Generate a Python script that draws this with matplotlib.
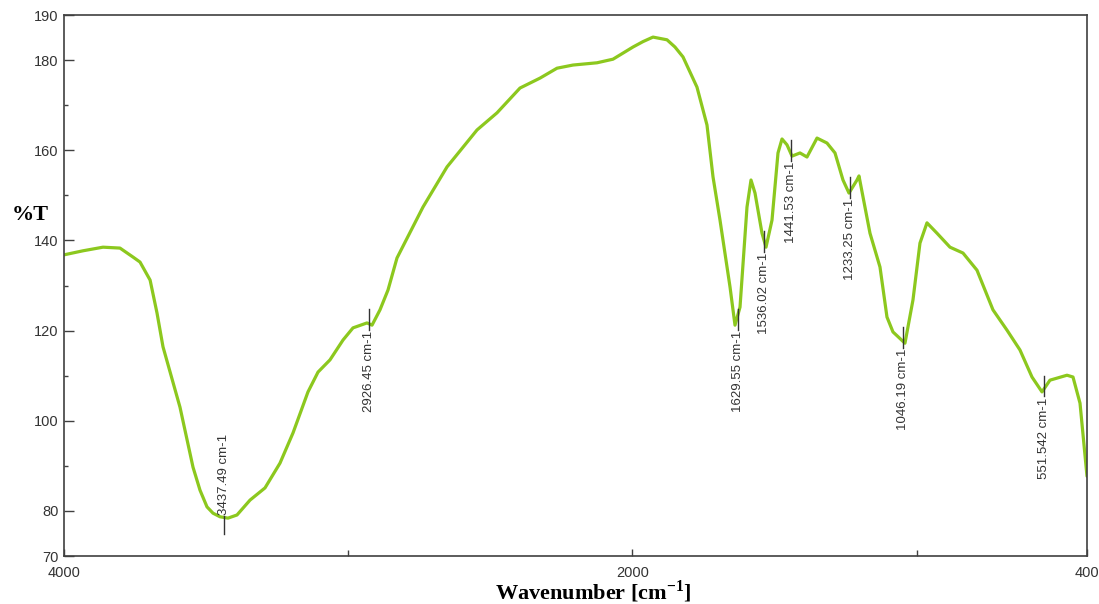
import matplotlib.pyplot as plt
from matplotlib.ticker import FixedLocator
import numpy as np

plt.rcParams['font.family'] = ['Liberation Sans', 'DejaVu Sans']
plt.rcParams['mathtext.fontset'] = 'custom'
plt.rcParams['mathtext.rm'] = 'Liberation Serif:bold'
plt.rcParams['mathtext.bf'] = 'Liberation Serif:bold'

# FTIR spectrum, wavenumber (cm-1) vs %T
wavenumber = [4000, 3933, 3862.8, 3803, 3757, 3732.5, 3697, 3672.7, 3651.6, 3591.8, 3546,
              3521.4, 3496.8, 3475.7, 3451, 3422.9, 3391.2, 3345.4, 3292.7, 3239.9, 3194.1,
              3141.4, 3106, 3064, 3018.2, 2983, 2933.7, 2916, 2888, 2859.8, 2828.2,
              2736.7, 2652.2, 2546.6, 2476.2, 2395.3, 2324.9, 2265.1, 2208.8, 2124.3, 2068,
              1997.6, 1962.4, 1927.3, 1878, 1850, 1821.7, 1772.5, 1737.3, 1716.1, 1691.5,
              1656.3, 1638.7, 1621.1, 1596.5, 1582.4, 1568.3, 1543.7, 1529.6, 1508.5, 1487.4,
              1473.3, 1455.7, 1438.1, 1410, 1385.4, 1350.1, 1315, 1286.8, 1258.7, 1237.6,
              1209.4, 1202.4, 1163.7, 1128.5, 1103.9, 1082.8, 1040.6, 1012.4, 987.8, 963.1,
              927.9, 882.2, 836.4, 787.2, 730.9, 681.6, 635.9, 593.6, 558.4, 530.3,
              470.4, 449.3, 424.6, 400]
transmittance = [136.8, 137.7, 138.5, 138.3, 136.3, 135.2, 131.2, 123.9, 116.4, 103.0, 89.7,
                 84.6, 80.9, 79.5, 78.7, 78.4, 79.1, 82.4, 85.1, 90.6, 97.3,
                 106.4, 110.8, 113.5, 117.9, 120.6, 121.7, 121.2, 124.6, 129.0, 136.1,
                 147.4, 156.3, 164.5, 168.3, 173.8, 176.0, 178.2, 178.9, 179.4, 180.2,
                 182.9, 184.1, 185.1, 184.5, 182.9, 180.7, 174.0, 165.6, 154.1, 144.5,
                 129.7, 121.2, 125.2, 147.4, 153.4, 150.5, 141.6, 138.5, 144.5, 159.4,
                 162.5, 161.2, 158.7, 159.4, 158.5, 162.7, 161.6, 159.4, 153.4, 150.5,
                 153.4, 154.3, 141.6, 134.1, 123.0, 119.7, 117.2, 126.8, 139.4, 143.9,
                 141.6, 138.5, 137.2, 133.4, 124.6, 120.1, 115.7, 109.7, 106.4, 109.0,
                 110.1, 109.7, 103.9, 87.7]

# labelled peaks
peak_labels = ['3437.49', '2926.45', '1629.55', '1536.02', '1441.53', '1233.25', '1046.19', '551.542']
peak_T = [78.4, 121.2, 121.2, 138.5, 158.7, 150.5, 117.2, 106.4]
label_above = [True, False, False, False, False, False, False, False]

fig = plt.figure(figsize=(10.99, 6.04), dpi=100)
ax = fig.add_axes([64 / 1099, 1 - 556 / 604, 1023 / 1099, 541 / 604])

ax.plot(wavenumber, transmittance, color='#8cc81e', linewidth=2.3,
        solid_joinstyle='round', solid_capstyle='round')

for lab, t, above in zip(peak_labels, peak_T, label_above):
    wn = float(lab)
    if above:
        ax.plot([wn, wn], [t - 3.5, t + 0.5], color='#333333', linewidth=1.0)
        ax.text(wn, t + 0.6, lab + ' cm-1', rotation=90, ha='center', va='bottom',
                fontsize=9.5, color='#333333')
    else:
        ax.plot([wn, wn], [t - 1.0, t + 3.5], color='#333333', linewidth=1.0)
        ax.text(wn, t - 1.2, lab + ' cm-1', rotation=90, ha='center', va='top',
                fontsize=9.5, color='#333333')

ax.set_xlim(4000, 400)
ax.set_ylim(70, 190)

ax.set_xticks([4000, 2000, 400])
ax.xaxis.set_minor_locator(FixedLocator([3000, 1000]))
ax.set_yticks([70, 80, 100, 120, 140, 160, 180, 190])
ax.yaxis.set_minor_locator(FixedLocator([90, 110, 130, 150, 170]))

ax.tick_params(which='both', direction='in', colors='#404040', labelcolor='#333333',
               labelsize=10.5, top=False, right=False, width=1.0)
ax.tick_params(axis='y', which='major', length=7, pad=4)
ax.tick_params(axis='y', which='minor', length=3)
ax.tick_params(axis='x', which='major', length=5, pad=7)
ax.tick_params(axis='x', which='minor', length=4)

for sp in ax.spines.values():
    sp.set_color('#404040')
    sp.set_linewidth(1.2)

fig.text(593 / 1099, 1 - 592 / 604, r'Wavenumber [cm$^{-1}$]', ha='center', va='center',
         fontsize=16, fontweight='bold', family='Liberation Serif')
fig.text(30 / 1099, 1 - 215 / 604, '%T', ha='center', va='center',
         fontsize=16, fontweight='bold', family='Liberation Serif')

plt.savefig('out.png', dpi=100)
